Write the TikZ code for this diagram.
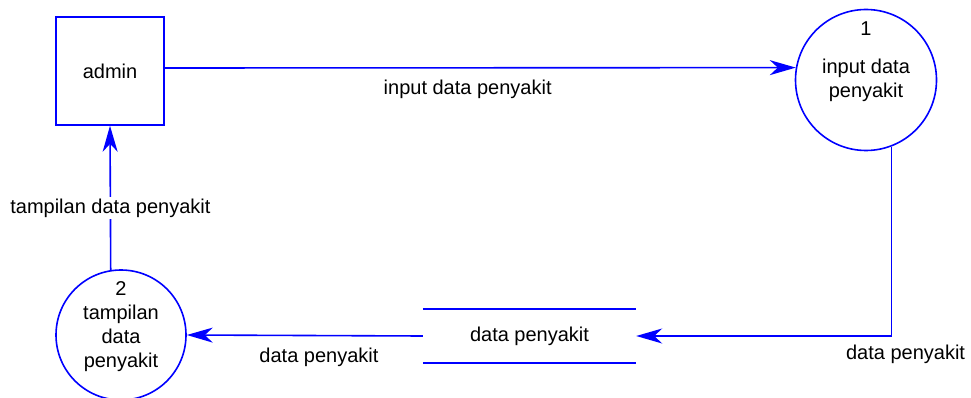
\documentclass[tikz,border=0pt]{standalone}
\usepackage{fontspec}
\setmainfont{Liberation Sans}
\usetikzlibrary{arrows.meta,positioning}

\tikzset{
    flow/.style={blue, line width=1.6pt, -{Stealth[length=26pt,width=15pt,inset=8pt]}},
    entity/.style={draw=blue, line width=1.6pt, minimum size=108pt},
    proc/.style={draw=blue, line width=1.6pt, circle, align=center},
    flowlabel/.style={black, fill=white, inner sep=2pt}
}

\begin{document}
\begin{tikzpicture}[x=1pt, y=-1pt, font=\fontsize{20}{24}\selectfont]
    \useasboundingbox (0,0) rectangle (971,398);
    \node[entity] (admin) at (110,71) {admin};
    \node[proc, minimum size=141pt, label={[below=10pt]north:1}] (p1) at (866,80) {input data\\penyakit};
    \node[proc, minimum size=130pt, label={[align=center,yshift=8pt]center:{2\\tampilan\\data\\penyakit}}] (p2) at (121,335) {};
    \node[minimum width=213pt, minimum height=54pt] (store) at (529.5,336) {data penyakit};
    \draw[blue, line width=1.6pt] (store.north west) -- (store.north east) (store.south west) -- (store.south east);
    % Flows
    \draw[flow] ([yshift=3pt]admin.east) -- (p1.170) node[pos=0.48, below=8pt, black] {input data penyakit};
    \draw[flow] (p1.-69) |- (store.east) node[pos=0.5, below=5pt, xshift=14pt, black] {data penyakit};
    \draw[flow] (store.west) -- (p2.east) node[pos=0.44, below=8pt, black] {data penyakit};
    \draw[flow] (p2.99) -- (admin.south) node[pos=0.43, flowlabel] {tampilan data penyakit};
\end{tikzpicture}
\end{document}
